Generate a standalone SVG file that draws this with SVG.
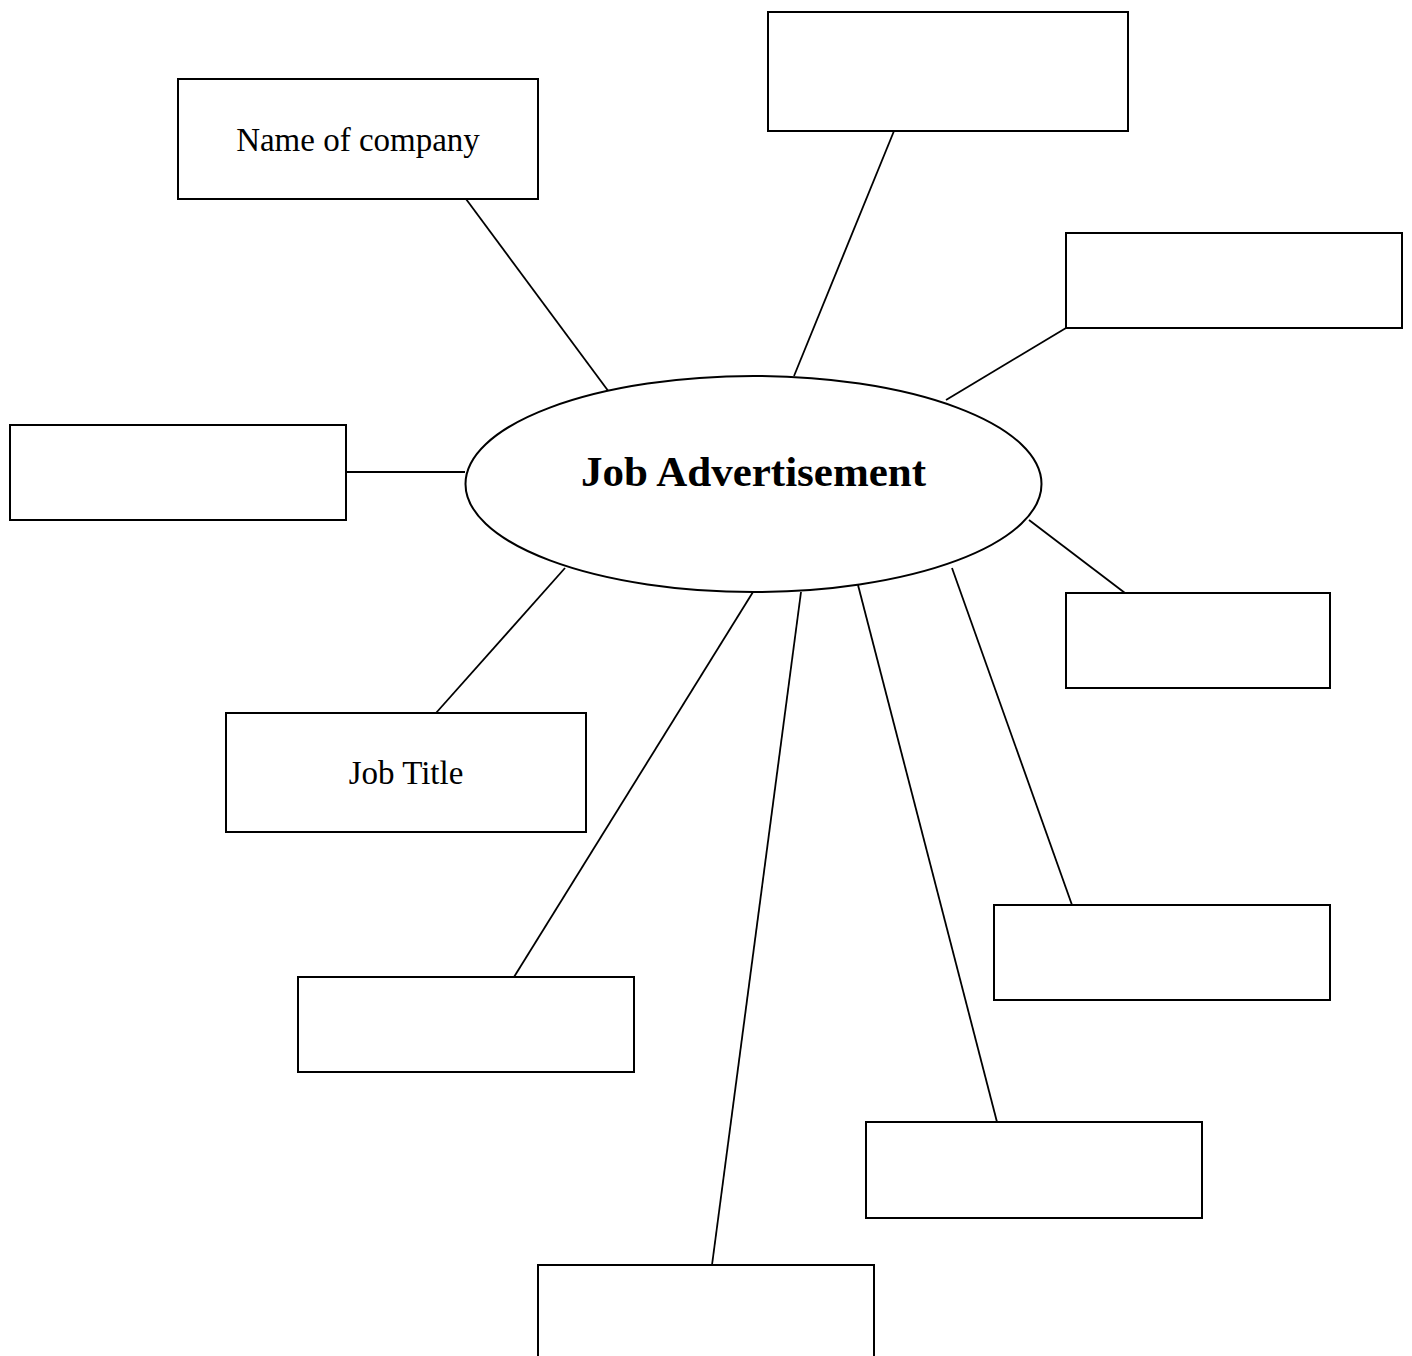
<svg xmlns="http://www.w3.org/2000/svg" width="1412" height="1356" viewBox="0 0 1412 1356">
<style>
.box{fill:#fff;stroke:#000;stroke-width:2}
.lbl{font-family:"Liberation Serif","DejaVu Serif",serif;font-size:33px;fill:#000;text-anchor:middle}
.conn line{stroke:#000;stroke-width:1.8}
</style>
<rect width="1412" height="1356" fill="#fff"/>
<g class="conn" id="connectors">
<line x1="466" y1="199" x2="609" y2="392"/>
<line x1="894" y1="131" x2="794" y2="376"/>
<line x1="1066" y1="328" x2="946" y2="400"/>
<line x1="346" y1="472" x2="465" y2="472"/>
<line x1="1029" y1="520" x2="1125" y2="593"/>
<line x1="565" y1="568" x2="436" y2="713"/>
<line x1="753" y1="592" x2="514" y2="977"/>
<line x1="801" y1="592" x2="712" y2="1265"/>
<line x1="858" y1="585" x2="997" y2="1122"/>
<line x1="952" y1="568" x2="1072" y2="905"/>
</g>
<g id="center">
<ellipse cx="753.5" cy="484" rx="288" ry="108" fill="#fff" stroke="#000" stroke-width="2"/>
<text x="753.5" y="486" font-family="Liberation Serif,serif" font-weight="bold" font-size="43" text-anchor="middle">Job Advertisement</text>
</g>
<g id="company"><rect class="box" x="178" y="79" width="360" height="120"/><text class="lbl" x="358" y="151">Name of company</text></g>
<g id="box-top"><rect class="box" x="768" y="12" width="360" height="119"/></g>
<g id="box-right-top"><rect class="box" x="1066" y="233" width="336" height="95"/></g>
<g id="box-left"><rect class="box" x="10" y="425" width="336" height="95"/></g>
<g id="box-right-mid"><rect class="box" x="1066" y="593" width="264" height="95"/></g>
<g id="jobtitle"><rect class="box" x="226" y="713" width="360" height="119"/><text class="lbl" x="406" y="784">Job Title</text></g>
<g id="box-right-low"><rect class="box" x="994" y="905" width="336" height="95"/></g>
<g id="box-bottom-left"><rect class="box" x="298" y="977" width="336" height="95"/></g>
<g id="box-bottom-right"><rect class="box" x="866" y="1122" width="336" height="96"/></g>
<g id="box-bottom"><rect class="box" x="538" y="1265" width="336" height="120"/></g>
</svg>
